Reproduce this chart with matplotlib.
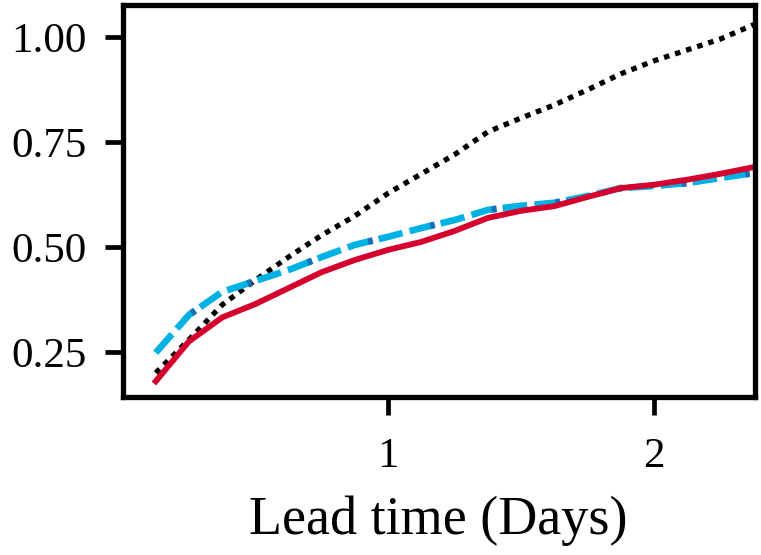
import numpy as np
import matplotlib
matplotlib.use('Agg')
import matplotlib.pyplot as plt

# lead times (days), 3-hourly
lead_days = [0.125, 0.25, 0.375, 0.5, 0.625, 0.75, 0.875, 1.0, 1.125, 1.25,
             1.375, 1.5, 1.625, 1.75, 1.875, 2.0, 2.125, 2.25, 2.375]

# values
dotted_vals = [0.200, 0.279, 0.362, 0.421, 0.476, 0.528, 0.574, 0.628, 0.674,
               0.720, 0.774, 0.807, 0.838, 0.874, 0.912, 0.943, 0.969, 0.995, 1.029]
dashed_vals = [0.248, 0.338, 0.393, 0.419, 0.445, 0.476, 0.505, 0.524, 0.545,
               0.564, 0.588, 0.598, 0.605, 0.621, 0.640, 0.645, 0.652, 0.664, 0.676]
solid_vals = [0.180, 0.275, 0.332, 0.364, 0.402, 0.440, 0.469, 0.493, 0.512,
              0.538, 0.569, 0.586, 0.597, 0.619, 0.640, 0.648, 0.660, 0.674, 0.690]

x_ticks = [1, 2]
y_ticks = [0.25, 0.50, 0.75, 1.00]

plt.rcParams['font.family'] = ['Liberation Serif', 'DejaVu Serif']

fig = plt.figure(figsize=(7.61, 5.55), dpi=100)
ax = fig.add_axes([0.161, 0.285, 0.831, 0.706])

ax.plot(lead_days, dotted_vals, color='black', linestyle=(0, (1.05, 1.15)),
        linewidth=3.8)
ax.plot(lead_days, dashed_vals, color='#00b2e3', linestyle=(0, (3.7, 1.1)),
        linewidth=4.8)
# small darker patches inside some of the dashes
ax.plot(lead_days, dashed_vals, color='#1470b8', linestyle=(1.6, (0.7, 8.9)),
        linewidth=4.8)
ax.plot(lead_days, solid_vals, color='#d6002f', linewidth=4.2)

ax.set_xlim(0, 2.38)
ax.set_ylim(0.143, 1.076)
ax.set_xticks(x_ticks)
ax.set_xticklabels([str(t) for t in x_ticks])
ax.set_yticks(y_ticks)
ax.set_yticklabels(['%0.2f' % t for t in y_ticks])

for s in ax.spines.values():
    s.set_linewidth(3.8)
ax.tick_params(axis='both', direction='out', length=13, width=3.4,
               labelsize=31)
ax.tick_params(axis='y', pad=13)
ax.tick_params(axis='x', pad=16)
ax.set_xlabel('Lead time (Days)', fontsize=39, labelpad=14)

fig.savefig('out.png', dpi=100)
